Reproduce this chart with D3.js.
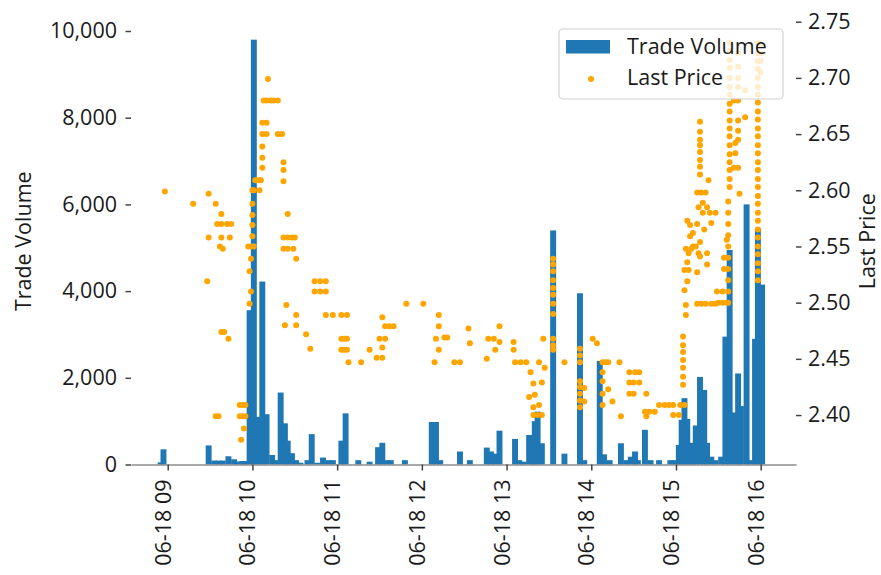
<!DOCTYPE html>
<html>
<head>
<meta charset="utf-8">
<script src="https://cdn.jsdelivr.net/npm/d3@7"></script>
<style>
  body { margin: 0; background: #fff; }
</style>
</head>
<body>
<svg width="881" height="575"></svg>
<script>
// trade volume per minute bar  [time, volume]
const tradeVolume = [
  ["08:55", 50], ["08:57", 350], ["09:29", 440], ["09:33", 90], ["09:36", 90], ["09:39", 90],
  ["09:43", 190], ["09:47", 120], ["09:50", 70], ["09:53", 80], ["09:55", 80], ["09:58", 3560],
  ["10:01", 9800], ["10:04", 1100], ["10:07", 4220], ["10:10", 1160], ["10:14", 220], ["10:17", 100],
  ["10:20", 1660], ["10:23", 950], ["10:25", 550], ["10:28", 260], ["10:31", 100], ["10:34", 40],
  ["10:39", 100], ["10:42", 700], ["10:46", 40], ["10:50", 160], ["10:54", 100], ["10:57", 100],
  ["11:03", 550], ["11:06", 1180], ["11:15", 100], ["11:23", 65], ["11:29", 400], ["11:32", 500],
  ["11:35", 100], ["11:38", 100], ["11:48", 100], ["12:07", 980], ["12:10", 980], ["12:13", 100],
  ["12:27", 300], ["12:34", 100], ["12:46", 390], ["12:49", 300], ["12:52", 250], ["12:55", 780],
  ["13:06", 590], ["13:09", 100], ["13:12", 65], ["13:16", 680], ["13:18", 580], ["13:20", 1000],
  ["13:22", 1220], ["13:25", 490], ["13:33", 5400], ["13:41", 250], ["13:52", 3950], ["13:55", 100],
  ["14:06", 2390], ["14:09", 235], ["14:13", 100], ["14:21", 490], ["14:25", 100], ["14:28", 180],
  ["14:31", 300], ["14:33", 100], ["14:38", 800], ["14:42", 100], ["14:48", 100], ["14:56", 100],
  ["14:59", 100], ["15:02", 450], ["15:04", 1030], ["15:06", 1530], ["15:08", 1050], ["15:10", 500],
  ["15:12", 300], ["15:14", 900], ["15:17", 2020], ["15:20", 1720], ["15:22", 500], ["15:25", 180],
  ["15:28", 100], ["15:32", 180], ["15:35", 2950], ["15:38", 4950], ["15:41", 1200], ["15:44", 2100],
  ["15:46", 1350], ["15:50", 6000], ["15:53", 100], ["15:56", 2900], ["15:58", 5450], ["16:01", 4150]
];

// last price of trades, grouped by minute  [time, [prices]]
const lastPrice = [
  ["08:58", [2.599]], ["09:18", [2.588]], ["09:29", [2.597, 2.558]], ["09:28", [2.519]],
  ["09:34", [2.588, 2.399]], ["09:35", [2.570]], ["09:36", [2.399]], ["09:37", [2.550]],
  ["09:38", [2.579, 2.570, 2.558, 2.474]], ["09:39", [2.548]], ["09:40", [2.474]],
  ["09:42", [2.570]], ["09:43", [2.468]], ["09:44", [2.558]], ["09:45", [2.570]],
  ["09:51", [2.409, 2.399]], ["09:52", [2.378]], ["09:53", [2.409, 2.399]], ["09:54", [2.388]],
  ["09:55", [2.409, 2.399]],
  ["09:57", [2.550]], ["09:58", [2.499, 2.528]], ["09:59", [2.510, 2.539, 2.550]],
  ["10:00", [2.559, 2.569, 2.578, 2.588, 2.600]], ["10:01", [2.550, 2.600]],
  ["10:02", [2.609]], ["10:03", [2.609]], ["10:05", [2.609, 2.600]], ["10:06", [2.609]],
  ["10:07", [2.620, 2.629, 2.639, 2.650, 2.660]], ["10:08", [2.680]],
  ["10:10", [2.650, 2.660, 2.680]], ["10:11", [2.699]], ["10:13", [2.680]], ["10:15", [2.680]],
  ["10:18", [2.680, 2.650]], ["10:21", [2.650]], ["10:22", [2.625, 2.618, 2.608, 2.558, 2.548]],
  ["10:23", [2.480]], ["10:24", [2.498]], ["10:25", [2.579, 2.558, 2.548]], ["10:28", [2.558]],
  ["10:29", [2.548]], ["10:30", [2.558]], ["10:31", [2.539, 2.489, 2.480]],
  ["10:38", [2.472]], ["10:41", [2.459]], ["10:44", [2.519, 2.510]], ["10:48", [2.519, 2.510]],
  ["10:52", [2.519, 2.510, 2.489]], ["10:57", [2.489]], ["11:03", [2.489, 2.468, 2.458]],
  ["11:05", [2.468, 2.458]], ["11:07", [2.489, 2.468, 2.458]], ["11:08", [2.447]],
  ["11:17", [2.447]], ["11:23", [2.458]], ["11:28", [2.451]], ["11:30", [2.468]],
  ["11:32", [2.451, 2.460, 2.487]], ["11:34", [2.468, 2.479]], ["11:37", [2.479]], ["11:40", [2.479]],
  ["11:49", [2.499]], ["12:01", [2.499]], ["12:09", [2.447]], ["12:10", [2.468]],
  ["12:12", [2.489, 2.479, 2.458]], ["12:16", [2.469]], ["12:18", [2.469]], ["12:23", [2.447]],
  ["12:27", [2.447]], ["12:33", [2.477]], ["12:34", [2.464]], ["12:46", [2.450]], ["12:47", [2.468]],
  ["12:51", [2.468]], ["12:52", [2.458]], ["12:55", [2.479, 2.465]],
  ["13:05", [2.465, 2.458]], ["13:06", [2.447]], ["13:10", [2.447]], ["13:14", [2.447]],
  ["13:16", [2.416]], ["13:17", [2.438]], ["13:19", [2.428, 2.407, 2.400]], ["13:20", [2.418]],
  ["13:22", [2.400]], ["13:23", [2.409, 2.447]], ["13:25", [2.400, 2.429]], ["13:26", [2.468]],
  ["13:27", [2.442]],
  ["13:33", [2.539, 2.534, 2.528, 2.520, 2.513, 2.507, 2.499, 2.490, 2.468, 2.462, 2.458]],
  ["13:41", [2.447]], ["13:52", [2.459, 2.453, 2.447, 2.430, 2.425, 2.419, 2.413, 2.407]],
  ["13:55", [2.424, 2.412]], ["14:01", [2.468]], ["14:04", [2.464]],
  ["14:08", [2.447, 2.438, 2.430, 2.419, 2.409]], ["14:10", [2.447]], ["14:12", [2.447, 2.423]],
  ["14:15", [2.412]], ["14:20", [2.447]], ["14:21", [2.399]],
  ["14:27", [2.438, 2.429, 2.419]], ["14:30", [2.429, 2.419]], ["14:31", [2.438]], ["14:34", [2.438, 2.429]],
  ["14:38", [2.403]], ["14:39", [2.419, 2.399]], ["14:41", [2.403]], ["14:45", [2.403]],
  ["14:48", [2.409]], ["14:52", [2.409]], ["14:55", [2.409]], ["14:58", [2.409, 2.400]],
  ["15:02", [2.400]], ["15:03", [2.409]],
  ["15:05", [2.470, 2.462, 2.456, 2.449, 2.442, 2.434, 2.427]],
  ["15:06", [2.409, 2.511, 2.529]], ["15:07", [2.489, 2.498, 2.548]], ["15:08", [2.519, 2.536, 2.573]],
  ["15:09", [2.529, 2.544]], ["15:10", [2.569, 2.559]], ["15:11", [2.548]], ["15:12", [2.550, 2.562]],
  ["15:14", [2.550]], ["15:15", [2.527, 2.499, 2.598, 2.570]], ["15:16", [2.544, 2.585]],
  ["15:17", [2.554, 2.541, 2.661, 2.652, 2.645, 2.640, 2.634, 2.627, 2.621, 2.614]],
  ["15:18", [2.499, 2.598]], ["15:19", [2.589, 2.580]], ["15:20", [2.565]], ["15:21", [2.499, 2.598]],
  ["15:22", [2.544, 2.534, 2.585]], ["15:23", [2.609]], ["15:24", [2.580]], ["15:25", [2.499, 2.571]],
  ["15:28", [2.499, 2.580]], ["15:29", [2.510]], ["15:30", [2.500]],
  ["15:33", [2.510, 2.500]], ["15:34", [2.540, 2.530]], ["15:36", [2.500, 2.556]],
  ["15:37", [2.590, 2.580, 2.570, 2.560, 2.550, 2.540, 2.530, 2.520, 2.510, 2.500]],
  ["15:38", [2.731, 2.724, 2.716, 2.709, 2.700, 2.692, 2.685, 2.677, 2.670, 2.662, 2.655,
             2.648, 2.640, 2.632, 2.625, 2.618, 2.610, 2.603]],
  ["15:41", [2.680, 2.620]], ["15:42", [2.642, 2.633]],
  ["15:44", [2.722, 2.710, 2.700, 2.692, 2.680, 2.662, 2.653, 2.645, 2.620]],
  ["15:45", [2.597]], ["15:49", [2.665, 2.689]],
  ["15:58", [2.731, 2.722, 2.715, 2.708, 2.700, 2.692, 2.685, 2.678, 2.670, 2.663, 2.655, 2.648,
             2.640, 2.633, 2.625, 2.618, 2.610, 2.603, 2.595, 2.588, 2.580, 2.573, 2.565, 2.558,
             2.550, 2.543, 2.535, 2.528, 2.520]],
  ["16:00", [2.730, 2.722, 2.715, 2.705]]
];

const volumeTicks = [0, 2000, 4000, 6000, 8000, 10000];
const priceTicks = [2.40, 2.45, 2.50, 2.55, 2.60, 2.65, 2.70, 2.75];
const hourTicks = ["09:00", "10:00", "11:00", "12:00", "13:00", "14:00", "15:00", "16:00"];

const day = "2019-06-18 ";
const parseTime = d3.timeParse("%Y-%m-%d %H:%M");
const t = s => parseTime(day + s);

const plot = {left: 131, right: 796, top: 18, bottom: 464.5};
const fontSize = 21.5;
const barMinutes = 4.2;
const dotR = 3;

const svg = d3.select("svg");

const x = d3.scaleTime()
  .domain([t("08:34"), t("16:25")])
  .range([plot.left, plot.right]);

const yVol = d3.scaleLinear()
  .domain([0, 10300])
  .range([plot.bottom, plot.top]);

const yPrice = d3.scaleLinear()
  .domain([2.356, 2.7533])
  .range([plot.bottom, plot.top]);

// bars, centred on their minute
const barW = barMinutes * (x(t("09:01")) - x(t("09:00")));
svg.append("g")
  .selectAll("rect")
  .data(tradeVolume)
  .join("rect")
  .attr("x", d => x(t(d[0])) - barW / 2)
  .attr("y", d => yVol(d[1]))
  .attr("width", barW)
  .attr("height", d => yVol(0) - yVol(d[1]))
  .attr("fill", "#1f77b4");

// bottom axis
const xAxis = svg.append("g")
  .attr("transform", `translate(0, ${plot.bottom})`)
  .call(d3.axisBottom(x)
    .tickValues(hourTicks.map(t))
    .tickFormat(d3.timeFormat("%m-%d %H"))
    .tickSize(6)
    .tickSizeOuter(0));
xAxis.select(".domain").attr("stroke", "#8c8c8c").attr("stroke-width", 1.6);
xAxis.selectAll(".tick line").attr("stroke", "#444").attr("stroke-width", 1.5);
xAxis.selectAll(".tick text")
  .attr("x", 0).attr("y", 0).attr("dy", 0)
  .attr("text-anchor", "end")
  .attr("transform", "translate(2.5, 15) rotate(-90)");

// left axis
const yAxisL = svg.append("g")
  .attr("transform", `translate(${plot.left}, 0)`)
  .call(d3.axisLeft(yVol)
    .tickValues(volumeTicks)
    .tickFormat(d3.format(","))
    .tickSize(5.5)
    .tickPadding(8.5));
yAxisL.select(".domain").remove();
yAxisL.selectAll(".tick line").attr("stroke", "#444").attr("stroke-width", 1.5);

// right axis
const yAxisR = svg.append("g")
  .attr("transform", `translate(${plot.right}, 0)`)
  .call(d3.axisRight(yPrice)
    .tickValues(priceTicks)
    .tickFormat(d3.format(".2f"))
    .tickSize(5.5)
    .tickPadding(6.5));
yAxisR.select(".domain").remove();
yAxisR.selectAll(".tick line").attr("stroke", "#444").attr("stroke-width", 1.5);

[xAxis, yAxisL, yAxisR].forEach(g => {
  g.attr("font-family", "'Open Sans', sans-serif").attr("font-size", fontSize);
  g.selectAll("text").attr("fill", "#1a1a1a");
});

// price dots on top of the bars
const dots = lastPrice.flatMap(d => d[1].map(p => ({time: d[0], price: p})));
svg.append("g")
  .selectAll("circle")
  .data(dots)
  .join("circle")
  .attr("cx", d => x(t(d.time)))
  .attr("cy", d => yPrice(d.price))
  .attr("r", dotR)
  .attr("fill", "#ffa500");

// axis titles
svg.append("text")
  .attr("transform", `translate(31, ${(plot.top + plot.bottom) / 2}) rotate(-90)`)
  .attr("text-anchor", "middle")
  .attr("font-family", "'Open Sans', sans-serif")
  .attr("font-size", fontSize)
  .attr("fill", "#1a1a1a")
  .text("Trade Volume");

svg.append("text")
  .attr("transform", `translate(875, ${(plot.top + plot.bottom) / 2}) rotate(-90)`)
  .attr("text-anchor", "middle")
  .attr("font-family", "'Open Sans', sans-serif")
  .attr("font-size", fontSize)
  .attr("fill", "#1a1a1a")
  .text("Last Price");

// legend
const legend = svg.append("g");
legend.append("rect")
  .attr("x", 559).attr("y", 29).attr("width", 224).attr("height", 70)
  .attr("rx", 4)
  .attr("fill", "#fff").attr("fill-opacity", 0.8)
  .attr("stroke", "#d0d0d0").attr("stroke-width", 1.2);
legend.append("rect")
  .attr("x", 566).attr("y", 40).attr("width", 44).attr("height", 13.5)
  .attr("fill", "#1f77b4");
legend.append("circle")
  .attr("cx", 591).attr("cy", 79).attr("r", dotR)
  .attr("fill", "#ffa500");
legend.selectAll("text.lbl")
  .data(["Trade Volume", "Last Price"])
  .join("text")
  .attr("x", 627)
  .attr("y", (d, i) => i === 0 ? 53.5 : 85)
  .attr("font-family", "'Open Sans', sans-serif")
  .attr("font-size", fontSize)
  .attr("fill", "#1a1a1a")
  .text(d => d);
</script>
</body>
</html>
